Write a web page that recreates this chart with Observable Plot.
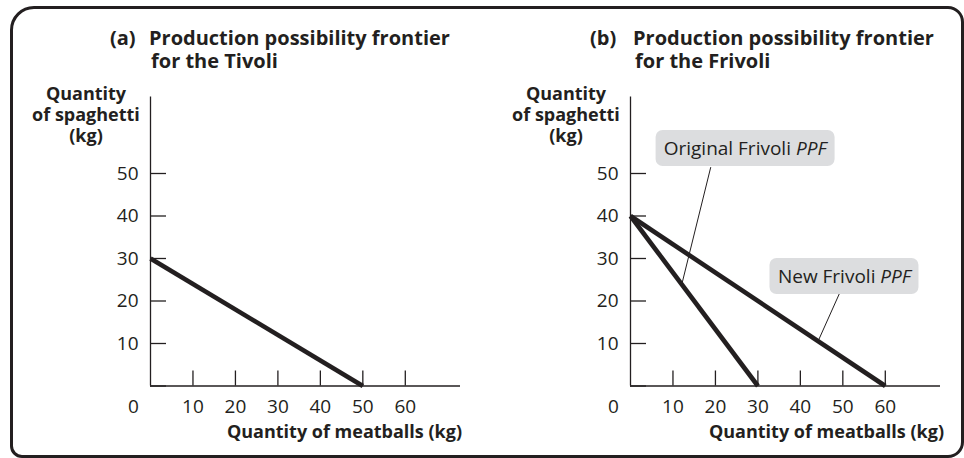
<!DOCTYPE html>
<html><head><meta charset="utf-8">
<script src="https://cdn.jsdelivr.net/npm/d3@7"></script>
<script src="https://cdn.jsdelivr.net/npm/@observablehq/plot@0.6"></script>
<style>
body{margin:0;background:#fff;}
#wrap{position:relative;width:964px;height:458px;overflow:hidden;font-family:"Open Sans",sans-serif;color:#231f20;}
#frame{position:absolute;left:10px;top:6px;width:954px;height:452px;box-sizing:border-box;border:3px solid #231f20;border-radius:24px 16px 16px 12px;pointer-events:none;}
.panel{position:absolute;top:0;width:482px;height:458px;}
.tag,.title{position:absolute;font-weight:700;font-size:20px;line-height:23px;height:23px;white-space:nowrap;}
.ylab{position:absolute;font-weight:700;font-size:18px;line-height:21px;height:21px;text-align:center;width:140px;white-space:nowrap;}
.xlab{position:absolute;font-weight:700;font-size:18px;line-height:21px;white-space:nowrap;text-align:right;width:300px;}
.note{position:absolute;background:#dcdddf;border-radius:7px;font-size:19px;line-height:36px;padding:0 8px;white-space:nowrap;transform:translate(-50%,-50%);}
</style></head><body>
<div id="wrap"></div>
<script>
// ---- data ----
const panelTags = ["(a)", "(b)"];
const panelTitles = [["Production possibility frontier", "for the Tivoli"], ["Production possibility frontier", "for the Frivoli"]];
const yLabelLines = ["Quantity", "of spaghetti", "(kg)"];
const xLabel = "Quantity of meatballs (kg)";
const xTicks = [10, 20, 30, 40, 50, 60];
const yTicks = [0, 10, 20, 30, 40, 50];
const originLabel = [0];

// Tivoli PPF
const tivoliMeatballs = [0, 50];
const tivoliSpaghetti = [30, 0];
// Frivoli original and new PPF
const frivoliOrigMeatballs = [0, 30];
const frivoliOrigSpaghetti = [40, 0];
const frivoliNewMeatballs = [0, 60];
const frivoliNewSpaghetti = [40, 0];

// annotations (data units)
const noteText = ["Original Frivoli ", "New Frivoli "];
const noteItalic = ["PPF", "PPF"];
const noteX = [27.1, 50.5];
const noteY = [55.8, 25.8];
const leaderX1 = [18.9, 49.4];
const leaderY1 = [51.5, 22.2];
const leaderX2 = [12.1, 44.2];
const leaderY2 = [24, 10.6];

const xMax = 73, yMax = 68;
const ink = "#231f20";

function toRows(xs, ys) { return xs.map((x, i) => ({x, y: ys[i]})); }

function makePanel(lines, notes) {
  const marks = [
    Plot.ruleX([0], {y1: 0, y2: yMax, stroke: ink, strokeWidth: 1.3}),
    Plot.ruleY([0], {x1: 0, x2: xMax, stroke: ink, strokeWidth: 1.3}),
    Plot.axisY(yTicks, {tickSize: -16, tickPadding: 28, tickFormat: d => d === 0 ? "" : String(d), stroke: ink, strokeWidth: 1.3, label: null}),
    Plot.axisX(xTicks, {tickSize: -15, tickPadding: 28.5, tickFormat: d => String(d), stroke: ink, strokeWidth: 1.3, label: null}),
    Plot.text(originLabel, {x: 0, y: 0, text: d => String(d), dx: -17, dy: 13.5, lineAnchor: "top", fill: ink}),
    ...lines.map(l => Plot.line(l, {x: "x", y: "y", stroke: ink, strokeWidth: 4.6, strokeLinecap: "butt", strokeLinejoin: "miter"})),
  ];
  if (notes.length) marks.push(Plot.link(notes, {x1: "x1", y1: "y1", x2: "x2", y2: "y2", stroke: ink, strokeWidth: 1}));
  return Plot.plot({
    width: 482, height: 458,
    marginLeft: 150, marginRight: 22, marginTop: 96.5, marginBottom: 72.5,
    x: {domain: [0, xMax]}, y: {domain: [0, yMax]},
    style: {background: "transparent", fontFamily: "Open Sans", fontSize: "19px", color: ink, overflow: "visible"},
    marks
  });
}

const wrap = document.getElementById("wrap");
const notesAll = noteText.map((t, i) => ({t, it: noteItalic[i], x: noteX[i], y: noteY[i], x1: leaderX1[i], y1: leaderY1[i], x2: leaderX2[i], y2: leaderY2[i]}));
const panels = [
  {lines: [toRows(tivoliMeatballs, tivoliSpaghetti)], notes: []},
  {lines: [toRows(frivoliOrigMeatballs, frivoliOrigSpaghetti), toRows(frivoliNewMeatballs, frivoliNewSpaghetti)], notes: notesAll}
];
const offsets = [0, 480];

function addDiv(parent, cls, left, top, content) {
  const d = document.createElement("div");
  d.className = cls;
  d.style.left = left + "px";
  d.style.top = top + "px";
  d.textContent = content;
  parent.appendChild(d);
  return d;
}

panels.forEach((p, k) => {
  const div = document.createElement("div");
  div.className = "panel";
  div.style.left = offsets[k] + "px";
  const chart = makePanel(p.lines, p.notes);
  div.appendChild(chart);
  wrap.appendChild(div);
  const sx = chart.scale("x"), sy = chart.scale("y");
  const ax = v => sx.apply ? sx.apply(v) : sx.range[0] + (v - sx.domain[0]) / (sx.domain[1] - sx.domain[0]) * (sx.range[1] - sx.range[0]);
  const ay = v => sy.apply ? sy.apply(v) : sy.range[0] + (v - sy.domain[0]) / (sy.domain[1] - sy.domain[0]) * (sy.range[1] - sy.range[0]);
  // notes
  p.notes.forEach(n => {
    const d = addDiv(div, "note", ax(n.x), ay(n.y), n.t);
    const s = document.createElement("span");
    s.style.fontStyle = "italic";
    s.textContent = n.it;
    d.appendChild(s);
  });
  const x0 = ax(0);
  // title
  addDiv(div, "tag", x0 - 40, 26, panelTags[k]);
  panelTitles[k].forEach((line, i) => addDiv(div, "title", x0 + (k ? 3 : -1) + (i ? 2 : 0), 26 + 23 * i, line));
  // y label
  yLabelLines.forEach((line, i) => addDiv(div, "ylab", x0 - 134, 82.5 + 21 * i, line));
  // x label
  addDiv(div, "xlab", ax(xMax) + (k ? 4 : 2) - 300, 420.5, xLabel);
});
const frame = document.createElement("div");
frame.id = "frame";
wrap.appendChild(frame);
</script>
</body></html>
